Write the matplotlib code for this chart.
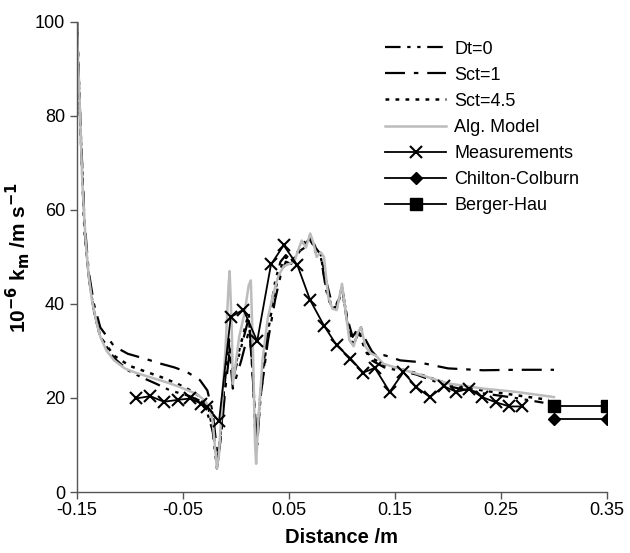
import numpy as np
import matplotlib.pyplot as plt

plt.rcParams['font.family'] = ['Liberation Sans', 'DejaVu Sans']

# measured mass transfer coefficient (10^-6 m/s)
meas_x = [-0.094, -0.081, -0.068, -0.055, -0.043, -0.033, -0.027, -0.016, -0.005, 0.007,
          0.020, 0.033, 0.045, 0.058, 0.070, 0.083, 0.095, 0.108, 0.120, 0.131,
          0.145, 0.158, 0.170, 0.183, 0.196, 0.208, 0.220, 0.232, 0.245, 0.258, 0.270]
meas_y = [19.9, 20.4, 19.2, 19.6, 19.9, 18.8, 18.1, 15.0, 37.2, 38.8,
          32.1, 48.4, 52.5, 48.2, 40.8, 35.4, 31.2, 28.4, 25.4, 26.4,
          21.3, 25.5, 22.3, 20.2, 22.5, 21.3, 22.0, 20.2, 19.1, 18.2, 18.2]

cc_x = [0.30, 0.35]
cc_y = [15.6, 15.6]
bh_x = [0.30, 0.35]
bh_y = [18.4, 18.4]

# algebraic model
alg_x = [-0.150, -0.149, -0.147, -0.145, -0.142, -0.139, -0.136, -0.132, -0.128, -0.122,
         -0.115, -0.105, -0.095, -0.085, -0.075, -0.065, -0.055, -0.045, -0.037, -0.030,
         -0.025, -0.022, -0.020, -0.018, -0.016, -0.013, -0.010, -0.007, -0.006, -0.004,
         -0.003, -0.001, 0.003, 0.008, 0.012, 0.014, 0.016, 0.018, 0.019, 0.021,
         0.025, 0.030, 0.035, 0.040, 0.045, 0.050, 0.055, 0.058, 0.062, 0.066,
         0.070, 0.073, 0.076, 0.080, 0.083, 0.087, 0.091, 0.095, 0.098, 0.100,
         0.103, 0.107, 0.111, 0.115, 0.118, 0.122, 0.127, 0.132, 0.139, 0.150,
         0.170, 0.200, 0.233, 0.264, 0.300]
alg_y = [100, 92, 80, 66, 54, 46, 41, 36.5, 33, 30,
         28.0, 26.3, 25.4, 24.7, 24.0, 23.3, 22.5, 21.6, 20.8, 19.6,
         18.0, 15.0, 10.0, 5.0, 8.0, 20.0, 30.0, 44.0, 47.0, 35.0,
         23.0, 26.0, 33.0, 38.0, 44.0, 45.0, 30.0, 10.0, 6.0, 15.0,
         28.0, 37.0, 42.0, 46.0, 48.0, 48.5, 49.0, 51.0, 53.5, 52.0,
         55.0, 53.0, 50.0, 51.0, 50.0, 41.5, 39.0, 38.7, 42.0, 44.3,
         39.0, 32.3, 31.0, 34.0, 35.0, 31.0, 29.5, 29.0, 27.3, 26.5,
         25.2, 23.1, 22.0, 21.3, 20.2]

# Sct = 1
sct1_x = [-0.150, -0.147, -0.143, -0.139, -0.134, -0.128, -0.115, -0.102, -0.085, -0.071,
          -0.058, -0.046, -0.034, -0.027, -0.022, -0.019, -0.017, -0.014, -0.010, -0.006,
          -0.003, 0.005, 0.013, 0.017, 0.020, 0.023, 0.030, 0.037, 0.042, 0.047,
          0.052, 0.058, 0.065, 0.070, 0.075, 0.080, 0.085, 0.090, 0.095, 0.100,
          0.105, 0.110, 0.117, 0.122, 0.128, 0.134, 0.140, 0.155, 0.170, 0.200,
          0.233, 0.264, 0.300]
sct1_y = [100, 80, 58, 47, 40, 35.0, 31.0, 29.4, 28.3, 27.3,
          26.5, 25.5, 23.8, 21.6, 17.0, 11.0, 7.0, 12.0, 22.0, 30.0,
          22.0, 28.0, 35.0, 20.0, 10.0, 20.0, 32.0, 41.0, 46.0, 49.0,
          48.5, 51.0, 52.0, 53.5, 52.0, 50.5, 45.0, 40.5, 40.0, 43.5,
          37.0, 33.0, 35.5, 32.5, 30.0, 28.5, 29.1, 28.0, 27.7, 26.3,
          25.9, 26.0, 26.0]

# Dt = 0
dt0_x = [-0.150, -0.147, -0.143, -0.139, -0.134, -0.128, -0.115, -0.102, -0.090, -0.075,
         -0.062, -0.045, -0.035, -0.028, -0.022, -0.018, -0.015, -0.011, -0.007, -0.003,
         0.004, 0.012, 0.016, 0.019, 0.023, 0.030, 0.037, 0.042, 0.047, 0.053,
         0.058, 0.064, 0.070, 0.075, 0.080, 0.085, 0.090, 0.095, 0.100, 0.105,
         0.110, 0.116, 0.122, 0.128, 0.140, 0.170, 0.200, 0.233, 0.264, 0.290]
dt0_y = [100, 79, 56, 46, 38.5, 33, 28.5, 25.9, 24.5, 23.0,
         21.6, 20.5, 19.5, 17.5, 13.0, 5.0, 10.0, 22.0, 32.0, 24.0,
         30.0, 37.0, 24.0, 9.0, 21.0, 35.0, 45.0, 49.0, 50.4, 49.0,
         50.5, 52.5, 54.0, 51.0, 50.0, 43.0, 39.0, 39.5, 43.0, 36.0,
         31.0, 34.0, 30.0, 28.0, 26.5, 25.0, 22.5, 21.0, 20.0, 19.0]

# Sct = 4.5
sct45_x = [-0.150, -0.147, -0.143, -0.139, -0.134, -0.128, -0.115, -0.100, -0.085, -0.070,
           -0.055, -0.042, -0.032, -0.026, -0.021, -0.018, -0.015, -0.011, -0.007, -0.003,
           0.004, 0.012, 0.016, 0.019, 0.023, 0.030, 0.037, 0.042, 0.047, 0.053,
           0.058, 0.064, 0.070, 0.075, 0.080, 0.085, 0.090, 0.095, 0.100, 0.105,
           0.110, 0.116, 0.122, 0.128, 0.140, 0.170, 0.200, 0.233, 0.264, 0.295]
sct45_y = [100, 79, 56, 46, 38.5, 33, 29.0, 26.8, 25.6, 24.4,
           23.0, 21.5, 20.0, 18.0, 12.0, 5.5, 11.0, 23.0, 33.0, 25.0,
           31.0, 38.0, 25.0, 9.0, 20.0, 34.0, 43.0, 47.5, 50.0, 49.0,
           51.0, 53.0, 54.5, 52.0, 50.5, 43.5, 39.5, 39.0, 43.5, 36.5,
           31.5, 34.5, 30.5, 28.5, 27.0, 25.3, 23.0, 21.6, 20.6, 19.6]

fig = plt.figure(figsize=(6.3, 5.53), dpi=100)
ax = fig.add_axes([0.1222, 0.1103, 0.8413, 0.85])

ax.plot(dt0_x, dt0_y, color='black', lw=1.6, ls=(0, (7, 3, 1.5, 3, 1.5, 3)), label='Dt=0')
ax.plot(sct1_x, sct1_y, color='black', lw=1.6, ls=(0, (9, 4, 2, 4)), label='Sct=1')
ax.plot(sct45_x, sct45_y, color='black', lw=1.8, ls=(0, (1.5, 2.5)), label='Sct=4.5')
ax.plot(alg_x, alg_y, color='#bcbcbc', lw=1.8, label='Alg. Model')
ax.plot(meas_x, meas_y, color='black', lw=1.3, marker='x', ms=9, mew=1.5, label='Measurements')
ax.plot(cc_x, cc_y, color='black', lw=1.3, marker='D', ms=6, label='Chilton-Colburn')
ax.plot(bh_x, bh_y, color='black', lw=1.3, marker='s', ms=8, label='Berger-Hau')

ax.set_xlim(-0.15, 0.35)
ax.set_ylim(0, 100)
ax.set_xticks([-0.15, -0.05, 0.05, 0.15, 0.25, 0.35])
ax.set_xticklabels(['-0.15', '-0.05', '0.05', '0.15', '0.25', '0.35'])
ax.set_yticks([0, 20, 40, 60, 80, 100])

for s in ['top', 'right']:
    ax.spines[s].set_visible(False)
for s in ['left', 'bottom']:
    ax.spines[s].set_color('#555555')
    ax.spines[s].set_linewidth(1.0)
ax.tick_params(direction='out', length=5, width=1.0, color='#555555', labelsize=13)
ax.tick_params(axis='x', pad=2)

ax.set_xlabel('Distance /m', fontsize=14.5, fontweight='bold', labelpad=7)
ax.set_ylabel(r'10$^{\mathbf{-6}}$ k$_{\mathbf{m}}$ /m s$^{\mathbf{-1}}$', fontsize=15,
              fontweight='bold', labelpad=2)

ax.legend(loc='upper left', bbox_to_anchor=(0.581, 0.96), frameon=False, fontsize=13,
          handlelength=3.4, handletextpad=0.45, labelspacing=0.5,
          borderaxespad=0, borderpad=0)

fig.savefig('out.png', dpi=100)
